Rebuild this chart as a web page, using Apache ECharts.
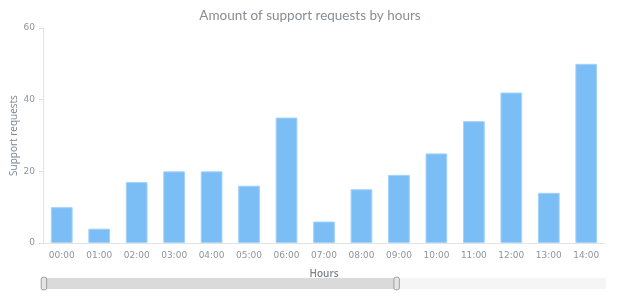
<!DOCTYPE html>
<html>
<head>
<meta charset="utf-8">
<script src="https://cdn.jsdelivr.net/npm/echarts@6/dist/echarts.min.js"></script>
<style>html,body{margin:0;padding:0;background:#fff}#c{width:620px;height:300px}</style>
</head>
<body>
<div id="c"></div>
<script>
var categories = ['00:00','01:00','02:00','03:00','04:00','05:00','06:00','07:00','08:00','09:00','10:00','11:00','12:00','13:00','14:00'];
var requests = [10, 4, 17, 20, 20, 16, 35, 6, 15, 19, 25, 34, 42, 14, 50];
var yTicks = [0, 20, 40, 60];
var scrollStart = 0, scrollEnd = 63;

var chart = echarts.init(document.getElementById('c'), null, {renderer: 'canvas'});
var labelColor = '#8e959c';
chart.setOption({
  animation: false,
  title: {
    text: 'Amount of support requests by hours',
    left: 'center', top: 4,
    textStyle: {fontFamily: 'Lato', fontSize: 13.5, fontWeight: 'normal', color: '#858d95'}
  },
  grid: {left: 43, right: 15, top: 28, bottom: 57, containLabel: false, outerBoundsMode: 'none'},
  xAxis: [{
    type: 'category',
    data: categories,
    name: 'Hours',
    nameLocation: 'middle',
    nameGap: 26,
    nameMoveOverlap: false,
    nameTextStyle: {fontFamily: 'Open Sans', fontSize: 10, color: '#7b838b', fontWeight: 600},
    axisLine: {lineStyle: {color: '#e3e3e3'}},
    axisTick: {lineStyle: {color: '#e3e3e3'}, length: 5},
    axisLabel: {fontFamily: 'DejaVu Sans', fontSize: 9, color: labelColor, margin: 8}
  }, {
    type: 'value', min: 0, max: 100, show: false, position: 'top'
  }],
  yAxis: {
    type: 'value',
    min: yTicks[0], max: yTicks[yTicks.length - 1], interval: 20,
    name: 'Support requests',
    nameLocation: 'middle',
    nameGap: 29,
    nameMoveOverlap: false,
    nameTextStyle: {fontFamily: 'Open Sans', fontSize: 10, color: '#7b838b', verticalAlign: 'middle'},
    axisLine: {show: true, lineStyle: {color: '#e3e3e3'}},
    axisTick: {show: true, lineStyle: {color: '#e3e3e3'}, length: 4},
    splitLine: {show: false},
    axisLabel: {fontFamily: 'DejaVu Sans', fontSize: 9, color: labelColor, margin: 8}
  },
  dataZoom: [{
    type: 'slider',
    xAxisIndex: 1,
    start: scrollStart, end: scrollEnd,
    left: 42, right: 15, bottom: 11, height: 11,
    showDetail: false,
    showDataShadow: false,
    brushSelect: false,
    borderColor: 'transparent',
    backgroundColor: '#f5f5f5',
    fillerColor: '#dadada',
    moveHandleSize: 0,
    handleIcon: 'path://M2,0 L4,0 Q6,0 6,2 L6,12 Q6,14 4,14 L2,14 Q0,14 0,12 L0,2 Q0,0 2,0 Z',
    handleSize: '115%',
    handleStyle: {color: '#e4e4e4', borderColor: '#a0a0a0', borderWidth: 1},
    dataBackground: {lineStyle: {opacity: 0}, areaStyle: {opacity: 0}},
    selectedDataBackground: {lineStyle: {opacity: 0}, areaStyle: {opacity: 0}},
    emphasis: {handleStyle: {borderColor: '#a0a0a0'}}
  }],
  series: [{
    type: 'bar',
    data: requests,
    barWidth: '58%',
    itemStyle: {color: '#7bbef6', borderColor: '#a3d2fb', borderWidth: 1}
  }]
});
</script>
</body>
</html>
